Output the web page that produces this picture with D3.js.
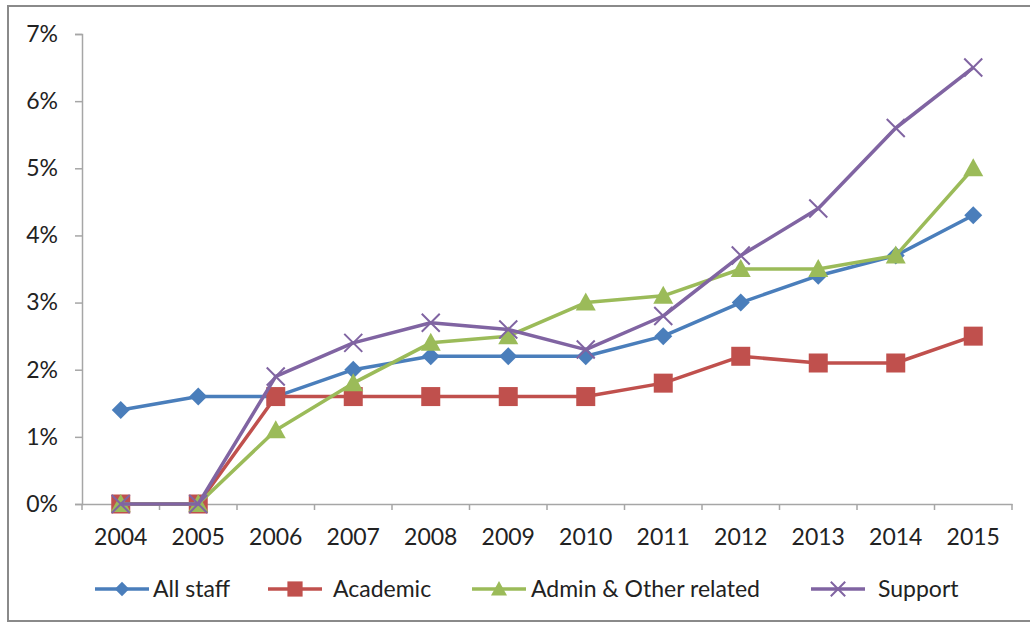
<!DOCTYPE html>
<html>
<head>
<meta charset="utf-8">
<script src="https://cdn.jsdelivr.net/npm/d3@7"></script>
<style>
  body { margin: 0; background: #fff; }
  text { font-family: Lato, "Open Sans", sans-serif; fill: #222; }
</style>
</head>
<body>
<div class="chart"></div>
<script>
const years = ["2004", "2005", "2006", "2007", "2008", "2009", "2010", "2011", "2012", "2013", "2014", "2015"];
const allStaff = [1.4, 1.6, 1.6, 2.0, 2.2, 2.2, 2.2, 2.5, 3.0, 3.4, 3.7, 4.3];
const academic = [0, 0, 1.6, 1.6, 1.6, 1.6, 1.6, 1.8, 2.2, 2.1, 2.1, 2.5];
const admin = [0, 0, 1.1, 1.8, 2.4, 2.5, 3.0, 3.1, 3.5, 3.5, 3.7, 5.0];
const support = [0, 0, 1.9, 2.4, 2.7, 2.6, 2.3, 2.8, 3.7, 4.4, 5.6, 6.5];
const yTicks = [0, 1, 2, 3, 4, 5, 6, 7];

const series = [
  { name: "All staff", values: allStaff, color: "#4a7ebb", marker: "diamond" },
  { name: "Academic", values: academic, color: "#c0504d", marker: "square" },
  { name: "Admin & Other related", values: admin, color: "#9bbb59", marker: "triangle" },
  { name: "Support", values: support, color: "#8064a2", marker: "x" }
];

const width = 1030, height = 624;
const svg = d3.select(".chart").append("svg")
  .attr("width", width)
  .attr("height", height);

// outer frame
svg.append("rect")
  .attr("x", 8).attr("y", 6)
  .attr("width", width + 10).attr("height", 615)
  .attr("fill", "none")
  .attr("stroke", "#8a8a8a")
  .attr("stroke-width", 2);

const x = d3.scaleBand().domain(years).range([82, 1012]);
const y = d3.scaleLinear().domain([0, 7]).range([504, 34]);

const xAxis = svg.append("g")
  .attr("transform", "translate(0,504)")
  .call(d3.axisBottom(x).tickSize(0).tickPadding(31));
xAxis.select(".domain").attr("stroke", "#a6a6a6").attr("stroke-width", 1.5);
xAxis.selectAll("text").style("font-size", "23px").attr("dy", "0.45em");
// tick marks at band edges
xAxis.selectAll(".edge")
  .data(years.concat(["end"]))
  .enter().append("line")
  .attr("x1", (d, i) => 82 + i * x.bandwidth())
  .attr("x2", (d, i) => 82 + i * x.bandwidth())
  .attr("y1", 0).attr("y2", 6)
  .attr("stroke", "#a6a6a6").attr("stroke-width", 1.5);

const yAxis = svg.append("g")
  .attr("transform", "translate(82,0)")
  .call(d3.axisLeft(y).tickValues(yTicks).tickFormat(d => d + "%").tickSize(7).tickPadding(17));
yAxis.select(".domain").attr("stroke", "#a6a6a6").attr("stroke-width", 1.5);
yAxis.selectAll(".tick line").attr("stroke", "#a6a6a6").attr("stroke-width", 1.5);
yAxis.selectAll("text").style("font-size", "23px");

const cx = i => x(years[i]) + x.bandwidth() / 2;

const line = d3.line()
  .x((d, i) => cx(i))
  .y(d => y(d));

function drawMarker(g, type, color, px, py, s) {
  if (type === "diamond") {
    g.append("path")
      .attr("d", `M${px},${py - s}L${px + s},${py}L${px},${py + s}L${px - s},${py}Z`)
      .attr("fill", color);
  } else if (type === "square") {
    g.append("rect")
      .attr("x", px - s).attr("y", py - s)
      .attr("width", 2 * s).attr("height", 2 * s)
      .attr("fill", color);
  } else if (type === "triangle") {
    g.append("path")
      .attr("d", `M${px},${py - s}L${px + s},${py + s * 0.8}L${px - s},${py + s * 0.8}Z`)
      .attr("fill", color);
  } else {
    g.append("path")
      .attr("d", `M${px - s},${py - s}L${px + s},${py + s}M${px - s},${py + s}L${px + s},${py - s}`)
      .attr("stroke", color)
      .attr("stroke-width", 2);
  }
}

const markerSize = { diamond: 9, square: 9.5, triangle: 10, x: 9 };

series.forEach(s => {
  const g = svg.append("g");
  g.append("path")
    .datum(s.values)
    .attr("d", line)
    .attr("fill", "none")
    .attr("stroke", s.color)
    .attr("stroke-width", 3.5)
    .attr("stroke-linejoin", "round");
  s.values.forEach((v, i) => drawMarker(g, s.marker, s.color, cx(i), y(v), markerSize[s.marker]));
});

// legend
const legendX = [95, 268, 472, 811];
const legendText = [153, 333, 531, 878];
const legend = svg.append("g");
series.forEach((s, i) => {
  const lx = legendX[i];
  const g = legend.append("g");
  g.append("line")
    .attr("x1", lx).attr("x2", lx + 54)
    .attr("y1", 589).attr("y2", 589)
    .attr("stroke", s.color)
    .attr("stroke-width", 3.5);
  drawMarker(g, s.marker, s.color, lx + 27, 589, markerSize[s.marker] * 0.8);
  g.append("text")
    .attr("x", legendText[i])
    .attr("y", 589)
    .attr("dy", "0.36em")
    .style("font-size", "23px")
    .text(s.name);
});
</script>
</body>
</html>
